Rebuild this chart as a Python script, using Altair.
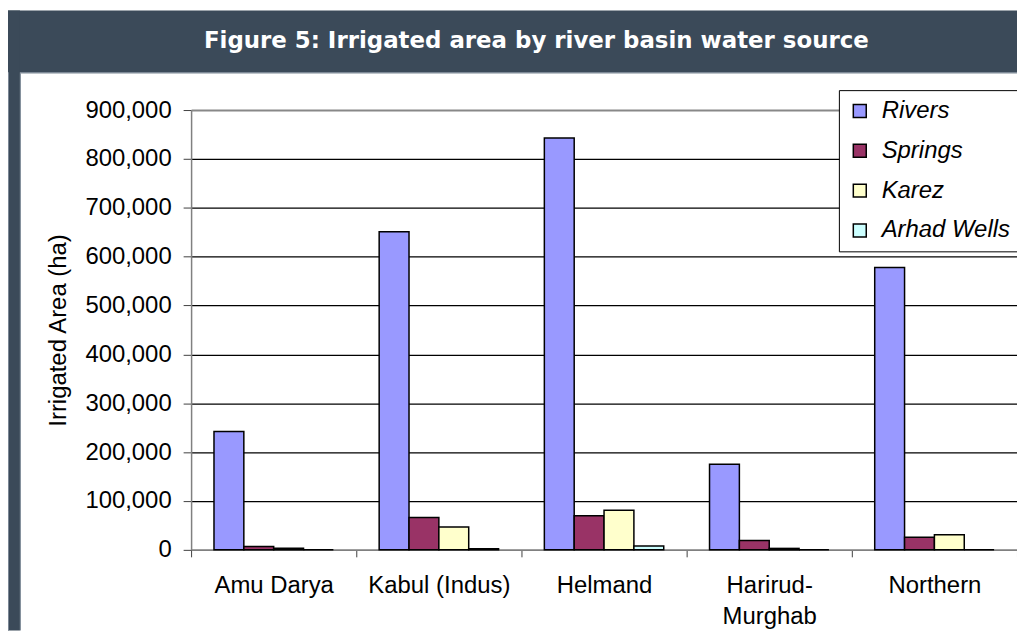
import altair as alt
import pandas as pd

basins = ["Amu Darya", "Kabul (Indus)", "Helmand", "Harirud-Murghab", "Northern"]
sources = ["Rivers", "Springs", "Karez", "Arhad Wells"]
rivers = [242000, 651000, 843000, 175000, 578000]
springs = [7000, 66000, 70000, 19000, 26000]
karez = [3500, 47000, 81000, 3000, 31000]
wells = [0, 2500, 8000, 0, 0]
colors = ["#9999ff", "#993366", "#ffffcc", "#ccffff"]
y_ticks = [0, 100000, 200000, 300000, 400000, 500000, 600000, 700000, 800000, 900000]

rows = []
for src, vals in zip(sources, [rivers, springs, karez, wells]):
    for b, v in zip(basins, vals):
        rows.append({"basin": b, "source": src, "value": v})
df = pd.DataFrame(rows)

W, H = 830, 442
BOTTOM = 81
DARK = "#3b4a59"
EDGE = "#7d8996"
FONT = "Liberation Sans"

bars = alt.Chart(df).mark_bar(stroke="black", strokeWidth=1.5).encode(
    x=alt.X(
        "basin:N",
        sort=basins,
        scale=alt.Scale(paddingInner=0, paddingOuter=0),
        axis=alt.Axis(
            title=None,
            labelAngle=0,
            tickBand="extent",
            labelFont=FONT,
            labelFontSize=24,
            labelColor="black",
            labelPadding=17,
            labelLineHeight=31,
            labelExpr="datum.label == 'Harirud-Murghab' ? ['Harirud-', 'Murghab'] : datum.label",
            domainColor="#808080",
            domainWidth=1.5,
            tickColor="#404040",
            tickSize=7,
            grid=False,
        ),
    ),
    xOffset=alt.XOffset(
        "source:N", sort=sources, scale=alt.Scale(paddingInner=0, paddingOuter=0.767)
    ),
    y=alt.Y(
        "value:Q",
        scale=alt.Scale(domain=[0, 900000], nice=False),
        axis=alt.Axis(
            values=y_ticks,
            format=",d",
            title="Irrigated Area (ha)",
            titleFont=FONT,
            titleFontSize=24,
            titleFontWeight="normal",
            titleColor="black",
            titlePadding=14,
            labelFont=FONT,
            labelFontSize=24,
            labelColor="black",
            labelPadding=12,
            domainColor="#808080",
            domainWidth=1.5,
            tickColor="#404040",
            tickSize=8,
            grid=True,
            gridColor=alt.condition("datum.value == 900000", alt.value("#888888"), alt.value("black")),
            gridWidth=alt.condition("datum.value == 900000", alt.value(2), alt.value(1.2)),
        ),
    ),
    color=alt.Color(
        "source:N",
        sort=sources,
        scale=alt.Scale(domain=sources, range=colors),
        legend=alt.Legend(
            title=None,
            orient="none",
            legendX=651,
            legendY=-20,
            fillColor="white",
            strokeColor="black",
            padding=9,
            rowPadding=16,
            symbolType="square",
            symbolSize=169,
            symbolStrokeColor="black",
            symbolStrokeWidth=1.5,
            symbolOpacity=1,
            labelFont=FONT,
            labelFontSize=24,
            labelFontStyle="italic",
            labelColor="black",
            labelOffset=10,
            labelLimit=300,
        ),
    ),
)

one = pd.DataFrame({"k": [0]})
header = alt.Chart(one).mark_rect(color=DARK).encode(
    x=alt.value(-184), x2=alt.value(W + 10), y=alt.value(-100), y2=alt.value(-38)
)
header_edge = alt.Chart(one).mark_rule(color=EDGE, strokeWidth=1.5).encode(
    x=alt.value(-172), x2=alt.value(W + 10), y=alt.value(-37.5)
)
left_strip = alt.Chart(one).mark_rect(color=DARK).encode(
    x=alt.value(-184), x2=alt.value(-172), y=alt.value(-100), y2=alt.value(H + BOTTOM)
)
left_edge1 = alt.Chart(one).mark_rule(color=EDGE, strokeWidth=1).encode(
    x=alt.value(-183.5), y=alt.value(-38), y2=alt.value(H + BOTTOM)
)
left_edge2 = alt.Chart(one).mark_rule(color=EDGE, strokeWidth=1).encode(
    x=alt.value(-171.5), y=alt.value(-37), y2=alt.value(H + BOTTOM)
)
title = alt.Chart(one).mark_text(
    text="Figure 5: Irrigated area by river basin water source",
    font="DejaVu Sans",
    fontSize=23,
    fontWeight="bold",
    color="white",
    align="center",
    baseline="middle",
).encode(x=alt.value(347), y=alt.value(-69))

chart = alt.layer(
    header, header_edge, left_strip, left_edge1, left_edge2, title, bars
).properties(
    width=W,
    height=H,
    autosize=alt.AutoSizeParams(type="none"),
    padding={"left": 184, "top": 101, "right": 0, "bottom": BOTTOM},
    background="white",
).configure_view(stroke=None)

chart.save("out.html", embed_options={"renderer": "svg", "actions": False})
